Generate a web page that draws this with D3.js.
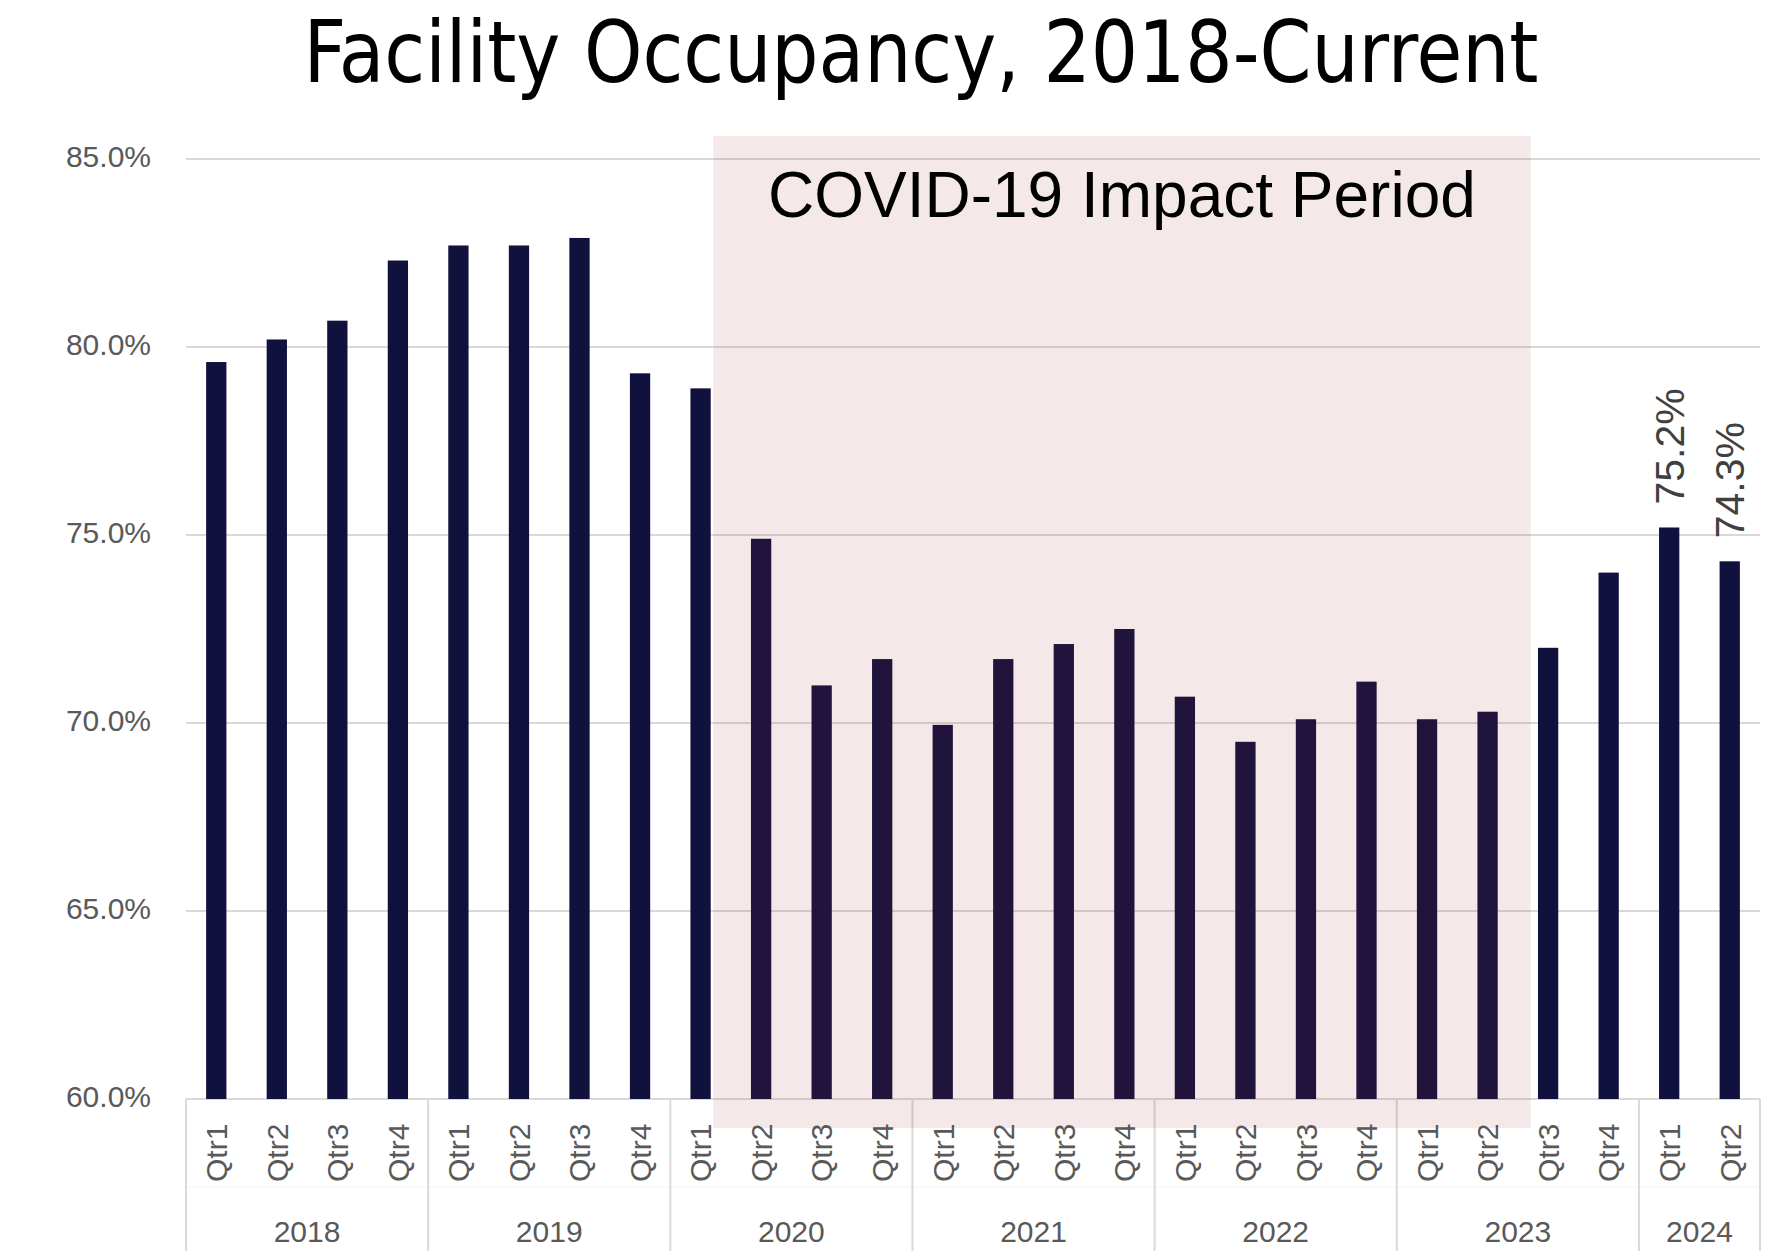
<!DOCTYPE html>
<html>
<head>
<meta charset="utf-8">
<script src="https://cdn.jsdelivr.net/npm/d3@7"></script>
<style>
  body { margin: 0; background: #fff; }
  text { font-family: "Liberation Sans", Arial, sans-serif; }
</style>
</head>
<body>
<div class="container"></div>
<script>
// data
var years = ["2018", "2019", "2020", "2021", "2022", "2023", "2024"];
var quarterNames = ["Qtr1", "Qtr2", "Qtr3", "Qtr4"];
var quartersPerYear = [4, 4, 4, 4, 4, 4, 2];
var occupancy = [79.6, 80.2, 80.7, 82.3, 82.7, 82.7, 82.9, 79.3, 78.9, 74.9, 71.0, 71.7,
                 69.95, 71.7, 72.1, 72.5, 70.7, 69.5, 70.1, 71.1, 70.1, 70.3, 72.0, 74.0,
                 75.2, 74.3];
var yTicks = [60, 65, 70, 75, 80, 85];
var labelledPeriods = ["2024 Qtr1", "2024 Qtr2"];
var covidStart = "2020 Qtr1";
var covidEnd = "2023 Qtr3";
var covidText = "COVID-19 Impact Period";
var titleText = "Facility Occupancy, 2018-Current";

var width = 1767;
var height = 1251;
var margin = {top: 159, right: 7, bottom: 152, left: 186};
var barColor = "#11113d";
var gridColor = "#d9d9d9";
var labelColor = "#595959";

// build the category table
var periods = [];
years.forEach(function(y, i) {
  for (var q = 0; q < quartersPerYear[i]; q++) {
    periods.push({key: y + " " + quarterNames[q], year: y, qtr: quarterNames[q]});
  }
});
periods.forEach(function(p, i) { p.value = occupancy[i]; });

var xScale = d3.scaleBand()
  .domain(periods.map(function(d) { return d.key; }))
  .range([margin.left, width - margin.right]);
var yScale = d3.scaleLinear()
  .domain([d3.min(yTicks), d3.max(yTicks)])
  .range([height - margin.bottom, margin.top]);

var step = xScale.step();
var barWidth = step * 0.335;
var axisY = yScale(d3.min(yTicks));

var svg = d3.select(".container")
  .append("svg")
  .attr("width", width).attr("height", height);

// title
svg.append("text")
  .attr("x", 921)
  .attr("y", 82)
  .attr("text-anchor", "middle")
  .attr("textLength", 1235)
  .attr("lengthAdjust", "spacingAndGlyphs")
  .style("font-family", "'Liberation Sans Narrow', 'DejaVu Sans Condensed', 'Liberation Sans', sans-serif")
  .style("font-size", "85px")
  .style("fill", "#000")
  .text(titleText);

// gridlines
svg.append("g").selectAll("line")
  .data(yTicks.slice(1))
  .enter().append("line")
  .attr("x1", xScale.range()[0]).attr("x2", xScale.range()[1])
  .attr("y1", function(d) { return yScale(d); })
  .attr("y2", function(d) { return yScale(d); })
  .style("stroke", gridColor).style("stroke-width", 2);

// y axis labels
var yAxis = d3.axisLeft(yScale)
  .tickValues(yTicks)
  .tickFormat(function(d) { return d3.format(".1f")(d) + "%"; })
  .tickSize(0).tickPadding(0);
var yAxisG = svg.append("g")
  .attr("transform", "translate(151,0)")
  .call(yAxis);
yAxisG.select(".domain").remove();
yAxisG.selectAll("text")
  .attr("dy", "0.25em")
  .style("font-family", "'Liberation Sans', Arial, sans-serif")
  .style("font-size", "30px")
  .style("fill", labelColor);

// category axis: base line, group dividers, level separator
var axisG = svg.append("g");
axisG.append("line")
  .attr("x1", xScale.range()[0]).attr("x2", xScale.range()[1])
  .attr("y1", axisY).attr("y2", axisY)
  .style("stroke", gridColor).style("stroke-width", 2);
axisG.append("line")
  .attr("x1", xScale.range()[0]).attr("x2", xScale.range()[1])
  .attr("y1", 1187).attr("y2", 1187)
  .style("stroke", "#f2f2f2").style("stroke-width", 1);

var groupEdges = [xScale(periods[0].key)];
years.forEach(function(y) {
  var last = periods.filter(function(p) { return p.year == y; }).pop();
  groupEdges.push(xScale(last.key) + step);
});
axisG.selectAll(".divider")
  .data(groupEdges)
  .enter().append("line")
  .attr("class", "divider")
  .attr("x1", function(d) { return d; }).attr("x2", function(d) { return d; })
  .attr("y1", axisY).attr("y2", height)
  .style("stroke", gridColor).style("stroke-width", 2);

// quarter labels (rotated)
axisG.selectAll(".qtr")
  .data(periods)
  .enter().append("text")
  .attr("class", "qtr")
  .attr("transform", function(d) {
    return "translate(" + (xScale(d.key) + step / 2) + ",1182) rotate(-90)";
  })
  .attr("dy", "0.36em")
  .attr("text-anchor", "start")
  .style("font-size", "30px")
  .style("fill", labelColor)
  .text(function(d) { return d.qtr; });

// year labels
axisG.selectAll(".year")
  .data(years)
  .enter().append("text")
  .attr("class", "year")
  .attr("x", function(d, i) { return (groupEdges[i] + groupEdges[i + 1]) / 2; })
  .attr("y", 1242)
  .attr("text-anchor", "middle")
  .style("font-size", "30px")
  .style("fill", labelColor)
  .text(function(d) { return d; });

// bars
svg.append("g").selectAll("rect")
  .data(periods)
  .enter().append("rect")
  .attr("x", function(d) { return xScale(d.key) + (step - barWidth) / 2; })
  .attr("y", function(d) { return yScale(d.value); })
  .attr("width", barWidth)
  .attr("height", function(d) { return axisY - yScale(d.value); })
  .style("fill", barColor);

// data labels on the latest quarters
svg.append("g").selectAll("text")
  .data(periods.filter(function(d) { return labelledPeriods.indexOf(d.key) >= 0; }))
  .enter().append("text")
  .attr("transform", function(d) {
    return "translate(" + (xScale(d.key) + step / 2) + "," + (yScale(d.value) - 23) + ") rotate(-90)";
  })
  .attr("dy", "0.36em")
  .attr("text-anchor", "start")
  .style("font-size", "41px")
  .style("fill", "#404040")
  .text(function(d) { return d3.format(".1f")(d.value) + "%"; });

// covid shading drawn over everything, semi-transparent
var covidX0 = xScale(covidStart) + step * 0.71;
var covidX1 = xScale(covidEnd) + step * 0.21;
svg.append("rect")
  .attr("x", covidX0)
  .attr("y", 136)
  .attr("width", covidX1 - covidX0)
  .attr("height", 1128 - 136)
  .style("fill", "rgb(155,45,55)")
  .style("fill-opacity", 0.11);

svg.append("text")
  .attr("x", (covidX0 + covidX1) / 2)
  .attr("y", 217)
  .attr("text-anchor", "middle")
  .style("font-size", "64px")
  .style("fill", "#000")
  .text(covidText);
</script>
</body>
</html>
